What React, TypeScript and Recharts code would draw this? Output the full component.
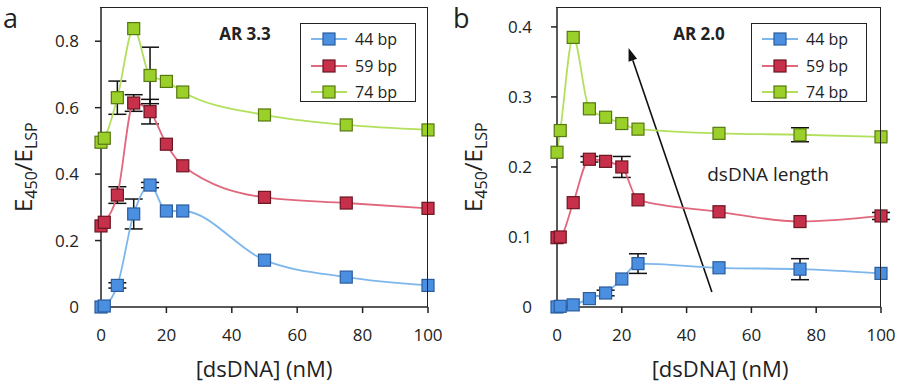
import React from "react"
import { LineChart, Line, XAxis, YAxis, ErrorBar, ReferenceLine, Legend, Customized } from "recharts"

// x values (nM)
const conc = [0, 1, 5, 10, 15, 20, 25, 50, 75, 100]
const xTicks = [0, 20, 40, 60, 80, 100]

// panel a: AR 3.3
const a44 = [0, 0.003, 0.065, 0.28, 0.367, 0.289, 0.289, 0.141, 0.09, 0.065]
const a59 = [0.244, 0.255, 0.337, 0.614, 0.588, 0.49, 0.425, 0.33, 0.313, 0.297]
const a74 = [0.496, 0.508, 0.63, 0.838, 0.697, 0.679, 0.647, 0.578, 0.548, 0.533]
const a44Err = [null, null, 0.008, 0.045, 0.008, null, null, null, null, null]
const a59Err = [null, null, 0.025, 0.025, 0.037, null, null, null, null, null]
const a74Err = [null, null, 0.05, null, 0.085, null, null, null, null, null]
const aTicks = [0, 0.2, 0.4, 0.6, 0.8]

// panel b: AR 2.0
const b44 = [0, 0.001, 0.003, 0.012, 0.02, 0.04, 0.062, 0.056, 0.054, 0.048]
const b59 = [0.099, 0.1, 0.149, 0.211, 0.208, 0.2, 0.153, 0.136, 0.122, 0.13]
const b74 = [0.221, 0.252, 0.385, 0.283, 0.271, 0.262, 0.254, 0.248, 0.246, 0.243]
const b44Err = [null, null, null, null, 0.004, null, 0.014, null, 0.015, null]
const b59Err = [null, null, null, 0.004, null, 0.015, null, null, null, 0.005]
const b74Err = [null, null, null, null, null, null, null, null, 0.01, null]
const bTicks = [0, 0.1, 0.2, 0.3, 0.4]

// arrow annotation in panel b (data coords)
const arrowFrom = { x: 47.8, y: 0.0215 }
const arrowTo = { x: 22.1, y: 0.37 }

const series = [
  { key: "s44", err: "e44", name: "44 bp", line: "#7db7ec", fill: "#4a8fe0", edge: "#2b5c9e" },
  { key: "s59", err: "e59", name: "59 bp", line: "#e0677c", fill: "#c7304a", edge: "#6b1520" },
  { key: "s74", err: "e74", name: "74 bp", line: "#b2e05c", fill: "#9bd02a", edge: "#56780f" },
]

const FONT = "'Open Sans', sans-serif"
const INK = "#222"
const W = 450
const H = 387
const TOP = 8
const BOTTOM = 50
const X_AXIS_H = 30

const buildRows = (v44: number[], v59: number[], v74: number[], e44: any[], e59: any[], e74: any[]) =>
  conc.map((x, i) => ({ x, s44: v44[i], s59: v59[i], s74: v74[i], e44: e44[i], e59: e59[i], e74: e74[i] }))

const squareDot = (fill: string, edge: string) => (props: any) => {
  const { cx, cy, index } = props
  if (cx == null || cy == null) return <g key={index} />
  return <rect key={index} x={cx - 6} y={cy - 6} width={12} height={12} fill={fill} stroke={edge} strokeWidth={1.2} />
}

const ArrowShape = (props: any) => {
  const { x1, y1, x2, y2 } = props
  if (x1 == null) return null
  const ang = Math.atan2(y2 - y1, x2 - x1)
  const L = 13
  const hw = 4.5
  const bx = x2 - L * Math.cos(ang)
  const by = y2 - L * Math.sin(ang)
  const px = -Math.sin(ang) * hw
  const py = Math.cos(ang) * hw
  return (
    <g>
      <line x1={x1} y1={y1} x2={bx} y2={by} stroke="#111" strokeWidth={1.6} />
      <polygon points={`${x2},${y2} ${bx + px},${by + py} ${bx - px},${by - py}`} fill="#111" />
    </g>
  )
}

const LegendBox = () => (
  <div style={{ width: 116, height: 79, border: `1.5px solid ${INK}`, background: "#fff", boxSizing: "border-box", paddingTop: 2 }}>
    {series.map((s) => (
      <div key={s.key} style={{ display: "flex", alignItems: "center", height: 26.5 }}>
        <svg width={48} height={16} style={{ marginLeft: 8 }}>
          <line x1={2} y1={8} x2={38} y2={8} stroke={s.line} strokeWidth={1.8} />
          <rect x={14} y={2} width={12} height={12} fill={s.fill} stroke={s.edge} strokeWidth={1.2} />
        </svg>
        <span style={{ fontFamily: FONT, fontSize: 16, color: INK, marginLeft: -2 }}>{s.name}</span>
      </div>
    ))}
  </div>
)

interface PanelProps {
  letter: string
  title: string
  rows: any[]
  yMax: number
  yTicks: number[]
  marginRight: number
  axisWidth: number
  tickGap: number
  legendLeft: number
  titleX: number
  xLabelX: number
  arrow?: boolean
}

function Panel({ letter, title, rows, yMax, yTicks, marginRight, axisWidth, tickGap, legendLeft, titleX, xLabelX, arrow }: PanelProps) {
  const plotW = W - marginRight - axisWidth
  const plotH = H - TOP - BOTTOM - X_AXIS_H
  return (
    <div style={{ position: "relative", width: W, height: H }}>
      <LineChart width={W} height={H} data={rows} margin={{ top: TOP, right: marginRight, bottom: BOTTOM, left: 0 }}>
        <XAxis
          dataKey="x"
          type="number"
          domain={[0, 100]}
          ticks={xTicks}
          stroke={INK}
          strokeWidth={1.5}
          tickSize={6}
          tickMargin={16}
          height={X_AXIS_H}
          tick={{ fill: INK, fontSize: 17, fontFamily: FONT }}
          allowDecimals={false}
        />
        <YAxis
          type="number"
          domain={[0, yMax]}
          ticks={yTicks}
          width={axisWidth}
          stroke={INK}
          strokeWidth={1.5}
          tickSize={6}
          tickMargin={tickGap}
          tick={{ fill: INK, fontSize: 17, fontFamily: FONT }}
        />
        {arrow && (
          <ReferenceLine segment={[arrowFrom, arrowTo]} stroke="#111" shape={<ArrowShape />} ifOverflow="visible" />
        )}
        {series.map((s) => (
          <Line
            key={s.key}
            type="monotone"
            dataKey={s.key}
            name={s.name}
            stroke={s.line}
            strokeWidth={1.8}
            dot={squareDot(s.fill, s.edge)}
            activeDot={false}
            isAnimationActive={false}
          >
            <ErrorBar dataKey={s.err} width={9} stroke="#111" strokeWidth={1.5} direction="y" />
          </Line>
        ))}
        <Legend
          layout="horizontal"
          verticalAlign="middle"
          align="center"
          content={() => <LegendBox />}
          wrapperStyle={{ position: "absolute", left: legendLeft, top: 23, width: 116, height: 79 }}
        />
        <Customized
          component={() => (
            <g fontFamily={FONT} fill={INK}>
              <text x={3} y={28} fontSize={27}>{letter}</text>
              <text x={titleX} y={40} fontSize={17} fontWeight="bold" textAnchor="middle">{title}</text>
              <text x={xLabelX} y={377} fontSize={22} textAnchor="middle">[dsDNA] (nM)</text>
              <text transform={`translate(32,212) rotate(-90)`} fontSize={24}>
                E<tspan dy={5} fontSize={16}>450</tspan>
                <tspan dy={-5}>/E</tspan>
                <tspan dy={5} fontSize={16}>LSP</tspan>
              </text>
              {arrow && (
                <text x={318} y={181} fontSize={19} textAnchor="middle">dsDNA length</text>
              )}
            </g>
          )}
        />
      </LineChart>
      {/* frame: top and right edges of the plot box */}
      <div
        style={{
          position: "absolute",
          left: axisWidth - 0.75,
          top: TOP - 0.75,
          width: plotW,
          height: plotH,
          borderTop: `1.5px solid ${INK}`,
          borderRight: `1.5px solid ${INK}`,
          pointerEvents: "none",
          zIndex: 2,
        }}
      />
    </div>
  )
}

export default function App() {
  const rowsA = buildRows(a44, a59, a74, a44Err, a59Err, a74Err)
  const rowsB = buildRows(b44, b59, b74, b44Err, b59Err, b74Err)
  return (
    <div style={{ position: "absolute", left: 0, top: 0, width: 901, height: 387, background: "#fff" }}>
      <div style={{ position: "absolute", left: 0, top: 0 }}>
        <Panel
          letter="a"
          title="AR 3.3"
          rows={rowsA}
          yMax={0.9}
          yTicks={aTicks}
          marginRight={22}
          axisWidth={101}
          tickGap={16}
          legendLeft={300}
          titleX={245}
          xLabelX={264}
        />
      </div>
      <div style={{ position: "absolute", left: 450, top: 0 }}>
        <Panel
          letter="b"
          title="AR 2.0"
          rows={rowsB}
          yMax={0.427}
          yTicks={bTicks}
          marginRight={19}
          axisWidth={107}
          tickGap={19}
          legendLeft={301}
          titleX={249}
          xLabelX={270}
          arrow
        />
      </div>
    </div>
  )
}
